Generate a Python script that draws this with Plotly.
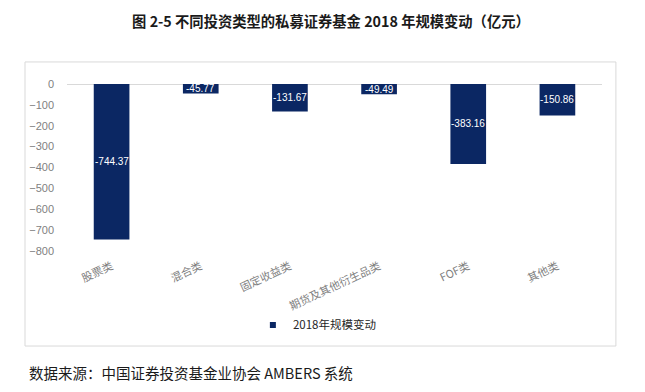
import plotly.graph_objects as go

categories = ["股票类", "混合类", "固定收益类", "期货及其他衍生品类", "FOF类", "其他类"]
values = [-744.37, -45.77, -131.67, -49.49, -383.16, -150.86]
series_name = "2018年规模变动"
y_ticks = [0, -100, -200, -300, -400, -500, -600, -700, -800]

BAR = "#0b2763"
GRAY = "#7f7f7f"
CJK = "Noto Sans CJK SC"

fig = go.Figure()
fig.add_trace(go.Bar(
    x=categories, y=values, name=series_name,
    marker=dict(color=BAR, line=dict(width=0)),
    width=0.4, showlegend=False,
))
# legend entry with a small square symbol
fig.add_trace(go.Scatter(
    x=[None], y=[None], mode="markers", name=series_name,
    marker=dict(symbol="square", size=6, color=BAR), showlegend=True,
))

for c, v in zip(categories, values):
    fig.add_annotation(x=c, y=v / 2, text=f"{v:.2f}", showarrow=False,
                       font=dict(family="Liberation Sans, Arial", size=10, color="white"))

# the page body has an 8px margin, so the figure is 8px smaller and offset
fig.update_layout(
    width=637, height=384,
    margin=dict(l=59, r=43, t=76, b=141, autoexpand=False),
    paper_bgcolor="white", plot_bgcolor="white",
    font=dict(family=CJK, color=GRAY),
    title=dict(text="<b>图 2-5 不同投资类型的私募证券基金 2018 年规模变动（亿元）</b>",
               x=0.507, xanchor="center", y=0.9635, yanchor="middle",
               font=dict(family=CJK, size=14.3, color="#1a1a1a")),
    showlegend=True,
    legend=dict(orientation="h", x=0.468, xanchor="center", y=-0.443, yanchor="middle",
                font=dict(family=CJK, size=11.5, color="#262626"),
                itemwidth=30, bgcolor="rgba(0,0,0,0)"),
    xaxis=dict(showgrid=False, showline=False, zeroline=False, automargin=False,
               tickangle=-25, tickfont=dict(family=CJK, size=11, color=GRAY),
               ticks="", ticklabelstandoff=6, fixedrange=True),
    yaxis=dict(range=[-800, 0], tickvals=y_ticks, showgrid=False, showline=False,
               zeroline=True, zerolinecolor="#d9d9d9", zerolinewidth=1, automargin=False,
               tickfont=dict(family="Liberation Sans, Arial", size=11, color=GRAY),
               ticks="", ticklabelstandoff=12, fixedrange=True),
    shapes=[dict(type="rect", xref="paper", yref="paper",
                 x0=-0.0785, x1=1.026, y0=-0.569, y1=1.132,
                 line=dict(color="#d9d9d9", width=1), fillcolor="rgba(0,0,0,0)", layer="below")],
)

fig.add_annotation(xref="paper", yref="paper", x=-0.0748, y=-0.730, xanchor="left", yanchor="middle",
                   text="数据来源：中国证券投资基金业协会 AMBERS 系统", showarrow=False,
                   font=dict(family=CJK, size=14.5, color="#1a1a1a"))

fig.write_html("out.html")
